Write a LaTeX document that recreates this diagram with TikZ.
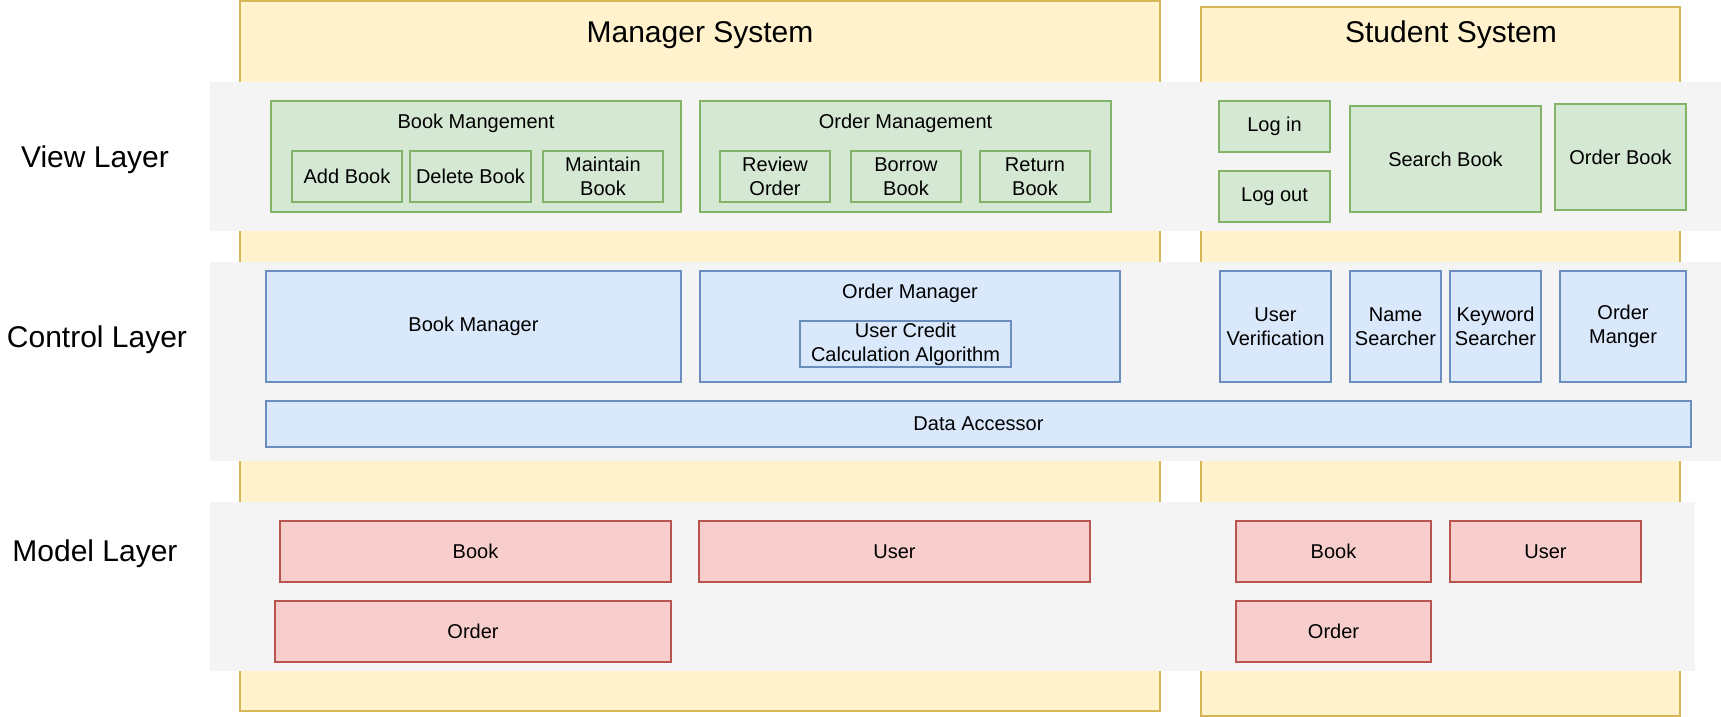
\documentclass[tikz,border=0pt]{standalone}
\usepackage{fontspec}
\setmainfont{Liberation Sans}
\definecolor{sysfill}{HTML}{FFF2CC}
\definecolor{sysline}{HTML}{D6B656}
\definecolor{bandfill}{HTML}{F4F4F4}
\definecolor{viewfill}{HTML}{D5E8D4}
\definecolor{viewline}{HTML}{82B366}
\definecolor{ctrlfill}{HTML}{DAE8FC}
\definecolor{ctrlline}{HTML}{6C8EBF}
\definecolor{modelfill}{HTML}{F8CECC}
\definecolor{modelline}{HTML}{B85450}
\begin{document}
\begin{tikzpicture}[x=1pt,y=-1pt,font=\fontsize{20}{24}\selectfont,
box/.style={draw=#1line,fill=#1fill,line width=1.5pt,inner sep=0pt,align=center},
band/.style={fill=bandfill,inner sep=0pt},
bigtext/.style={font=\fontsize{30}{36}\selectfont,yshift=-3pt}]
\useasboundingbox (0,0) rectangle (1721,717);
% systems
\node[box=sys,minimum width=920,minimum height=710] (mgr) at (700,356) {};
\node[box=sys,minimum width=479,minimum height=709] (stu) at (1440.5,361.5) {};
\node[bigtext] (mgrtitle) at (700,32) {Manager System};
\node[bigtext] (stutitle) at (1451,32) {Student System};
% layer bands
\node[band,minimum width=1511,minimum height=149] (viewband) at (965.5,156.5) {};
\node[band,minimum width=1511,minimum height=199] (ctrlband) at (965.5,361.5) {};
\node[band,minimum width=1485,minimum height=169] (modelband) at (952.5,586.5) {};
\node[bigtext] (viewlabel) at (95,157) {View Layer};
\node[bigtext] (ctrllabel) at (97,337) {Control Layer};
\node[bigtext] (modellabel) at (95,551) {Model Layer};
% view layer
\node[box=view,minimum width=410,minimum height=111] (bookmgmt) at (476,156.5) {};
\node (bookmgmttitle) at (476,123) {Book Mangement};
\node[box=view,minimum width=110,minimum height=51] (addbook) at (347,176.5) {Add Book};
\node[box=view,minimum width=121,minimum height=51] (delbook) at (470.5,176.5) {Delete Book};
\node[box=view,minimum width=120,minimum height=51] (maintbook) at (603,176.5) {Maintain\\Book};
\node[box=view,minimum width=411,minimum height=111] (ordermgmt) at (905.5,156.5) {};
\node (ordermgmttitle) at (905.5,123) {Order Management};
\node[box=view,minimum width=110,minimum height=51] (revorder) at (775,176.5) {Review\\Order};
\node[box=view,minimum width=110,minimum height=51] (borrowbook) at (906,176.5) {Borrow\\Book};
\node[box=view,minimum width=110,minimum height=51] (returnbook) at (1035,176.5) {Return\\Book};
\node[box=view,minimum width=111,minimum height=51] (login) at (1274.5,126.5) {Log in};
\node[box=view,minimum width=111,minimum height=51] (logout) at (1274.5,196.5) {Log out};
\node[box=view,minimum width=191,minimum height=106] (searchbook) at (1445.5,159) {Search Book};
\node[box=view,minimum width=131,minimum height=106] (orderbook) at (1620.5,157) {Order Book};
% control layer
\node[box=ctrl,minimum width=415,minimum height=111] (bookmgr) at (473.5,326.5) {Book Manager};
\node[box=ctrl,minimum width=420,minimum height=111] (ordermgr) at (910,326.5) {};
\node (ordermgrtitle) at (910,293) {Order Manager};
\node[box=ctrl,minimum width=211,minimum height=46] (credit) at (905.5,344) {User Credit\\Calculation Algorithm};
\node[box=ctrl,minimum width=111,minimum height=111] (userverif) at (1275.5,326.5) {User\\Verification};
\node[box=ctrl,minimum width=91,minimum height=111] (namesearch) at (1395.5,326.5) {Name\\Searcher};
\node[box=ctrl,minimum width=91,minimum height=111] (keysearch) at (1495.5,326.5) {Keyword\\Searcher};
\node[box=ctrl,minimum width=126,minimum height=111] (stuordermgr) at (1623,326.5) {Order\\Manger};
\node[box=ctrl,minimum width=1425,minimum height=46] (dataacc) at (978.5,424) {Data Accessor};
% model layer
\node[box=model,minimum width=391,minimum height=61] (book) at (475.5,551.5) {Book};
\node[box=model,minimum width=391,minimum height=61] (user) at (894.5,551.5) {User};
\node[box=model,minimum width=396,minimum height=61] (order) at (473,631.5) {Order};
\node[box=model,minimum width=195,minimum height=61] (stubook) at (1333.5,551.5) {Book};
\node[box=model,minimum width=191,minimum height=61] (stuuser) at (1545.5,551.5) {User};
\node[box=model,minimum width=195,minimum height=61] (stuorder) at (1333.5,631.5) {Order};
\end{tikzpicture}
\end{document}
